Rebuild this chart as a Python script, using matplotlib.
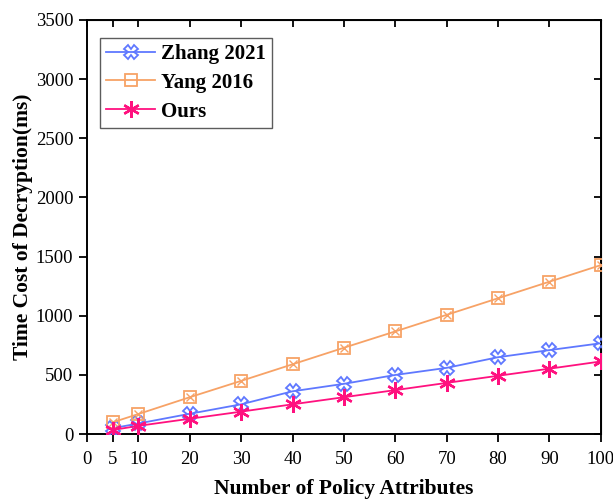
import matplotlib
matplotlib.use("Agg")
import matplotlib.pyplot as plt

# Decryption time (ms) versus number of policy attributes
attrs = [5, 10, 20, 30, 40, 50, 60, 70, 80, 90, 100]
zhang_2021 = [50, 90, 172, 252, 362, 425, 500, 560, 650, 710, 768]
yang_2016 = [100, 170, 312, 450, 590, 730, 868, 1008, 1148, 1288, 1428]
ours = [35, 70, 130, 190, 252, 312, 372, 433, 493, 553, 614]

x_ticks = [0, 5, 10, 20, 30, 40, 50, 60, 70, 80, 90, 100]
y_ticks = [0, 500, 1000, 1500, 2000, 2500, 3000, 3500]

plt.rcParams["font.family"] = ["Liberation Serif", "DejaVu Serif"]

fig = plt.figure(figsize=(6.13, 4.99), dpi=100)
ax = fig.add_axes([0.142, 0.130, 0.838, 0.830])

c_zhang = "#5F78FF"
c_yang = "#F7A266"
c_ours = "#FF117F"

lw = 1.3
ax.plot(attrs, zhang_2021, color=c_zhang, lw=lw, marker="X", ms=10,
        mfc="none", mec=c_zhang, mew=1.3, label="Zhang 2021", zorder=3)
ax.plot(attrs, yang_2016, color=c_yang, lw=lw, marker="s", ms=8,
        mfc="none", mec=c_yang, mew=1.3, label="Yang 2016", zorder=3)
ax.plot(attrs, yang_2016, color=c_yang, lw=0, marker="x", ms=6,
        mec=c_yang, mew=1.0, zorder=3)
ax.plot(attrs, ours, color=c_ours, lw=lw, marker=(6, 2, 0), ms=12,
        mec=c_ours, mew=1.7, label="Ours", zorder=4)

ax.set_xlim(0, 100)
ax.set_ylim(0, 3500)
ax.set_xticks(x_ticks)
ax.set_yticks(y_ticks)
ax.tick_params(axis="both", direction="out", length=6, width=1.3,
               labelsize=13.5)
ax.tick_params(axis="x", pad=6)
ax.tick_params(axis="y", pad=4)

for sp in ax.spines.values():
    sp.set_linewidth(1.4)

# mirrored inward ticks on the top and right edges
top = ax.secondary_xaxis("top")
top.set_xticks(x_ticks)
top.tick_params(direction="in", length=5, width=1.3, labeltop=False)
right = ax.secondary_yaxis("right")
right.set_yticks(y_ticks)
right.tick_params(direction="in", length=5, width=1.3, labelright=False)

ax.set_xlabel("Number of Policy Attributes", fontsize=15.5,
              fontweight="bold", labelpad=8)
ax.set_ylabel("Time Cost of Decryption(ms)", fontsize=15.5,
              fontweight="bold", labelpad=2)

leg = ax.legend(loc="upper left", bbox_to_anchor=(0.025, 0.957),
                borderaxespad=0,
                prop={"weight": "bold", "size": 15}, frameon=True,
                fancybox=False, edgecolor="#333333", handlelength=2.35,
                borderpad=0.3, labelspacing=0.42, handletextpad=0.3)
leg.get_frame().set_linewidth(1.0)

fig.savefig("out.png", dpi=100)
